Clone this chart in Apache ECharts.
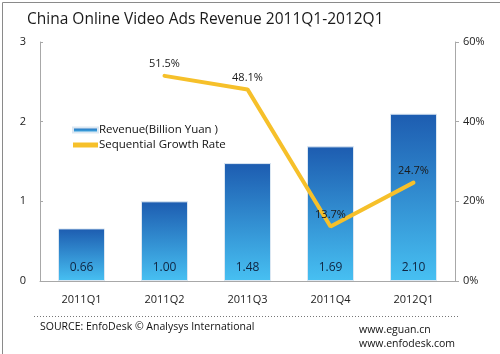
<!DOCTYPE html>
<html><head><meta charset="utf-8">
<script src="https://cdn.jsdelivr.net/npm/echarts@6/dist/echarts.min.js"></script>
<style>html,body{margin:0;padding:0;background:#fff}#c{width:500px;height:354px}</style>
</head><body><div id="c"></div>
<script>
const categories = ['2011Q1','2011Q2','2011Q3','2011Q4','2012Q1'];
const revenue = [0.66, 1.00, 1.48, 1.69, 2.10];
const growth = [null, 51.5, 48.1, 13.7, 24.7];
const leftTicks = [0, 1, 2, 3];
const rightTicks = [0, 20, 40, 60];

const FONT = '"Open Sans", "Noto Sans", sans-serif';
const chart = echarts.init(document.getElementById('c'), null, {renderer: 'canvas'});
chart.setOption({
  animation: false,
  backgroundColor: '#fff',
  textStyle: {fontFamily: FONT},
  title: {
    text: 'China Online Video Ads Revenue 2011Q1-2012Q1',
    left: 22, top: 7,
    textStyle: {fontFamily: FONT, fontSize: 15.5, fontWeight: 'normal', color: '#1a1a1a'}
  },
  legend: {
    left: 67, top: 119, orient: 'vertical', itemGap: 3, itemWidth: 25, itemHeight: 5,
    textStyle: {fontFamily: FONT, fontSize: 11.5, color: '#111', padding: [0, 0, 0, -4]},
    data: [
      {name: 'Revenue(Billion Yuan )', icon: 'rect'},
      {name: 'Sequential Growth Rate', icon: 'rect', itemStyle: {color: '#F6C02A'}}
    ]
  },
  grid: {left: 40, right: 45, top: 42, bottom: 73},
  xAxis: {
    type: 'category', data: categories,
    axisLine: {lineStyle: {color: '#a8a8a8'}},
    axisTick: {show: false},
    axisLabel: {color: '#222', fontSize: 11, margin: 13, fontFamily: FONT}
  },
  yAxis: [
    {type: 'value', min: 0, max: 3, interval: 1,
     axisLine: {show: true, lineStyle: {color: '#a8a8a8'}},
     axisTick: {show: true, length: 3, inside: true, lineStyle: {color: '#a8a8a8'}},
     splitLine: {show: false},
     axisLabel: {color: '#222', fontSize: 11, margin: 14, fontFamily: FONT,
       formatter: v => leftTicks.includes(v) ? String(v) : ''}},
    {type: 'value', min: 0, max: 60, interval: 20,
     axisLine: {show: true, lineStyle: {color: '#a8a8a8'}},
     axisTick: {show: true, length: 4, lineStyle: {color: '#a8a8a8'}},
     splitLine: {show: false},
     axisLabel: {color: '#222', fontSize: 11, margin: 8, fontFamily: FONT,
       formatter: v => rightTicks.includes(v) ? v + '%' : ''}}
  ],
  series: [
    {
      name: 'Revenue(Billion Yuan )', type: 'bar', data: revenue, barWidth: 47,
      itemStyle: {
        color: new echarts.graphic.LinearGradient(0, 0, 0, 1, [
          {offset: 0, color: '#1D5CB0'},
          {offset: 1, color: '#47C0F2'}
        ]),
        borderColor: '#dbe7f2', borderWidth: 1
      },
      label: {show: true, position: 'insideBottom', distance: 7,
        formatter: p => p.value.toFixed(2), color: '#0f2440', fontSize: 12, fontFamily: FONT}
    },
    {
      name: 'Sequential Growth Rate', type: 'line', yAxisIndex: 1, data: growth,
      symbol: 'circle', symbolSize: 1, showSymbol: true, connectNulls: false,
      lineStyle: {color: '#F6C02A', width: 4, cap: 'round'},
      itemStyle: {color: '#F6C02A'},
      label: {show: true, position: 'top', distance: 6,
        formatter: p => p.value == null ? '' : p.value.toFixed(1) + '%',
        color: '#1a1a1a', fontSize: 11, fontFamily: FONT},
      labelLayout: {hideOverlap: false}
    }
  ],
  graphic: [
    {type: 'rect', left: 0, top: 0, shape: {width: 499, height: 353},
     style: {fill: 'none', stroke: '#8a8a8a', lineWidth: 1}, silent: true},
    {type: 'line', shape: {x1: 34, y1: 316.5, x2: 460, y2: 316.5},
     style: {stroke: '#777', lineWidth: 1, lineDash: [1, 2]}},
    {type: 'text', left: 40, top: 322,
     style: {text: 'SOURCE: EnfoDesk © Analysys International', font: '10.5px ' + FONT, fill: '#111'}},
    {type: 'text', left: 359, top: 325,
     style: {text: 'www.eguan.cn', font: '10.5px ' + FONT, fill: '#111'}},
    {type: 'text', left: 359, top: 339,
     style: {text: 'www.enfodesk.com', font: '10.5px ' + FONT, fill: '#111'}}
  ]
});
</script></body></html>
